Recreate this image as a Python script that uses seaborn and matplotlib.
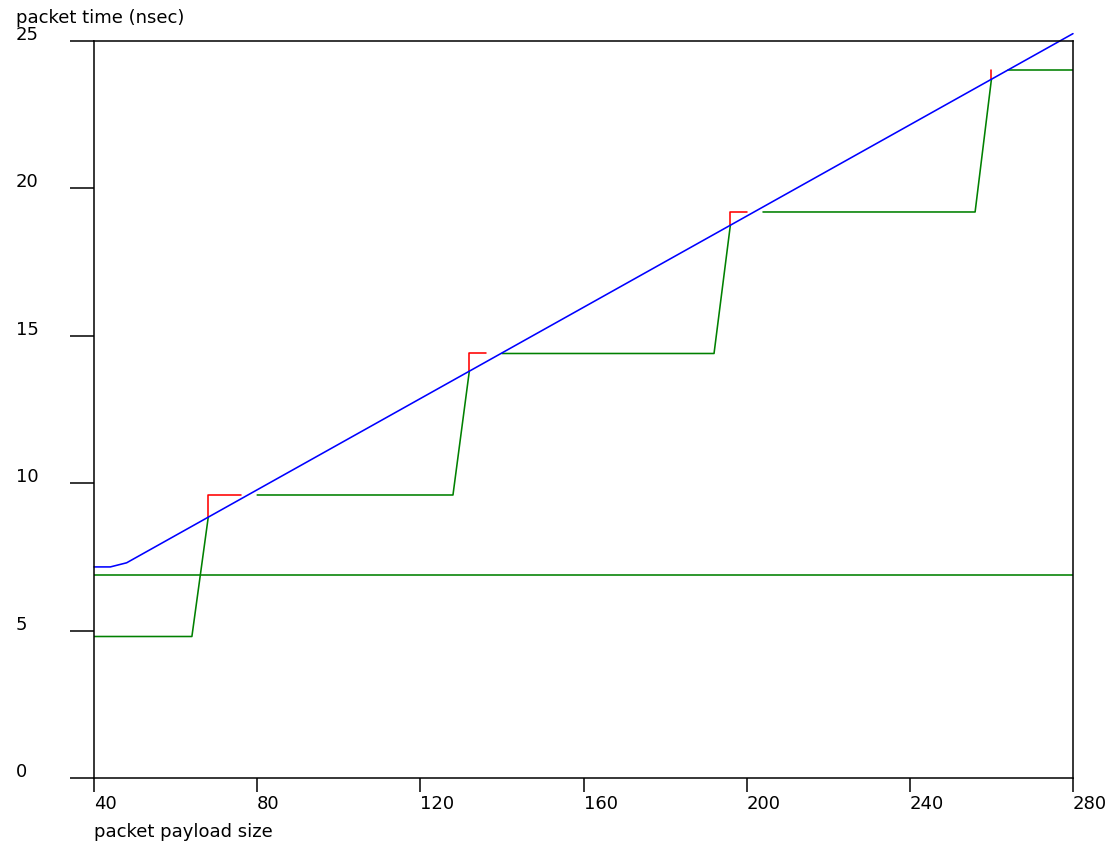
import matplotlib
matplotlib.use("Agg")
import matplotlib.pyplot as plt
import matplotlib.transforms as mtransforms
import seaborn as sns
import pandas as pd

# data
x_ticks = [40, 80, 120, 160, 200, 240, 280]
y_ticks = [0, 5, 10, 15, 20, 25]

blue_x = [40, 44, 48, 280]
blue_y = [7.16, 7.16, 7.3, 25.25]

flat_x = [40, 280]
flat_y = [6.9, 6.9]

# green step pieces
green_segs = [
    ([40, 64, 68], [4.8, 4.8, 8.84]),
    ([80, 128, 132], [9.6, 9.6, 13.79]),
    ([140, 192, 196], [14.4, 14.4, 18.75]),
    ([204, 256, 260], [19.2, 19.2, 23.7]),
    ([264, 280], [24.0, 24.0]),
]
# red corner pieces
red_segs = [
    ([68, 68, 76], [8.84, 9.6, 9.6]),
    ([132, 132, 136], [13.79, 14.4, 14.4]),
    ([196, 196, 200], [18.75, 19.2, 19.2]),
    ([260, 260], [23.7, 24.0]),
]

sns.set_style("ticks")
plt.rcParams['font.family'] = ['DejaVu Sans']
plt.rcParams['text.color'] = 'black'

fig = plt.figure(figsize=(11.13, 8.45), dpi=100)
ax = fig.add_axes([94 / 1113, 66 / 845, 979 / 1113, 737 / 845])

lw = 1.15
fs = 13


def draw(xs, ys, color, clip=True):
    d = pd.DataFrame({'x': xs, 'y': ys})
    sns.lineplot(data=d, x='x', y='y', color=color, lw=lw, sort=False,
                 estimator=None, ax=ax, clip_on=clip)


draw(flat_x, flat_y, '#008000')
for xs, ys in green_segs:
    draw(xs, ys, '#008000')
for xs, ys in red_segs:
    draw(xs, ys, '#ff0000')
draw(blue_x, blue_y, '#0000ff', clip=False)

ax.set_xlim(40, 280)
ax.set_ylim(0, 25)
ax.set_xticks(x_ticks)
ax.set_xticklabels([str(v) for v in x_ticks])
ax.set_yticks(y_ticks)
ax.set_yticklabels([str(v) for v in y_ticks])

for s in ax.spines.values():
    s.set_visible(True)
    s.set_color('black')
    s.set_linewidth(1.1)

ax.tick_params(axis='y', length=17.3, width=1.1, pad=38.9, labelsize=fs,
               colors='black', labelcolor='black')
ax.tick_params(axis='x', length=10.1, width=1.1, pad=1.5, labelsize=fs,
               colors='black', labelcolor='black')

# y labels sit just above their tick, left aligned at the figure edge
shift = mtransforms.ScaledTranslation(0, 2 / 100, fig.dpi_scale_trans)
for lab in ax.get_yticklabels():
    lab.set_horizontalalignment('left')
    lab.set_verticalalignment('baseline')
    lab.set_transform(lab.get_transform() + shift)
for lab in ax.get_xticklabels():
    lab.set_horizontalalignment('left')

ax.set_xlabel('packet payload size', fontsize=fs, ha='left', va='top', color='black')
ax.xaxis.set_label_coords(0, -0.0597)
ax.set_ylabel('packet time (nsec)', fontsize=fs, rotation=0, ha='left', va='baseline',
              color='black')
ax.yaxis.set_label_coords(-0.0797, 1.0258)

fig.savefig('out.png', dpi=100)
